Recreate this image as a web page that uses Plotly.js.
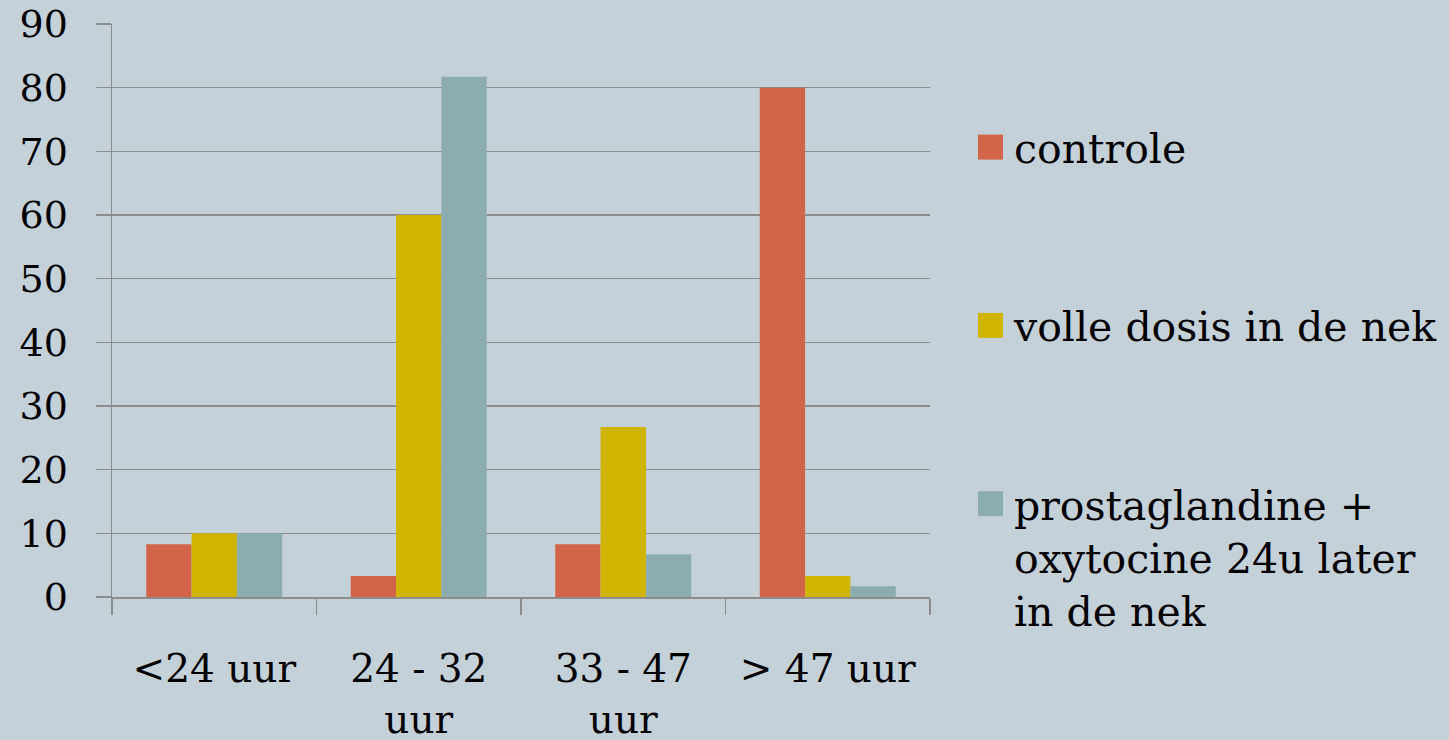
<!DOCTYPE html>
<html>
<head>
<meta charset="utf-8">
<script src="https://cdn.plot.ly/plotly-3.0.1.min.js"></script>
<style>
  html, body { margin: 0; padding: 0; background: #C5D1D8; }
  #chart { width: 1449px; height: 740px; }
</style>
</head>
<body>
<div id="chart"></div>
<script>
const categories = ['<24 uur', '24 - 32<br>uur', '33 - 47<br>uur', '> 47 uur'];
const seriesNames = ['controle', 'volle dosis in de nek', 'prostaglandine +<br>oxytocine 24u later<br>in de nek'];
const controle = [8.3, 3.3, 8.3, 80];
const volleDosis = [10, 60, 26.7, 3.3];
const prostaglandine = [10, 81.7, 6.7, 1.7];
const yTicks = [0, 10, 20, 30, 40, 50, 60, 70, 80, 90];
const colors = ['#D2644A', '#CFB400', '#8BADAF'];

const FONT = '"DejaVu Serif", serif';
const seriesValues = [controle, volleDosis, prostaglandine];

const data = seriesValues.map((vals, i) => ({
  type: 'bar',
  name: seriesNames[i],
  x: categories,
  y: vals,
  legendgroup: 'g' + i,
  marker: { color: colors[i], line: { width: 0 } },
  hoverinfo: 'x+y+name'
}));

const layout = {
  width: 1449,
  height: 740,
  paper_bgcolor: '#C5D1D8',
  plot_bgcolor: '#C5D1D8',
  margin: { l: 112, r: 519, t: 24, b: 143, autoexpand: false },
  font: { family: FONT, color: '#000000', size: 40 },
  barmode: 'group',
  bargap: 0.335,
  bargroupgap: 0,
  showlegend: true,
  legend: {
    x: 1.0538,
    xanchor: 'left',
    y: 0.843,
    yanchor: 'top',
    font: { family: FONT, size: 41, color: '#000000' },
    tracegroupgap: 122,
    valign: 'top',
    bgcolor: 'rgba(0,0,0,0)'
  },
  xaxis: {
    type: 'category',
    showgrid: false,
    showline: true,
    linecolor: '#8C8C8C',
    linewidth: 1.5,
    ticks: 'outside',
    tickson: 'boundaries',
    ticklen: 16,
    tickwidth: 1.5,
    tickcolor: '#8C8C8C',
    ticklabelstandoff: 37,
    tickfont: { family: FONT, size: 39, color: '#000000' },
    zeroline: false
  },
  yaxis: {
    range: [0, 90],
    tickvals: yTicks,
    ticktext: yTicks.map(String),
    showgrid: true,
    gridcolor: '#8C8C8C',
    gridwidth: 1.5,
    showline: true,
    linecolor: '#8C8C8C',
    linewidth: 1.5,
    ticks: 'outside',
    ticklen: 15,
    tickwidth: 1.5,
    tickcolor: '#8C8C8C',
    ticklabelstandoff: 20,
    tickfont: { family: FONT, size: 38, color: '#000000' },
    zeroline: false
  }
};

Plotly.newPlot('chart', data, layout, { displayModeBar: false, staticPlot: true }).then(() => {
  document.querySelectorAll('#chart .legend .legendpoints path').forEach(p => {
    p.setAttribute('d', 'M29,12.5H4V-12.5H29Z');
    p.removeAttribute('transform');
  });
});
</script>
</body>
</html>
